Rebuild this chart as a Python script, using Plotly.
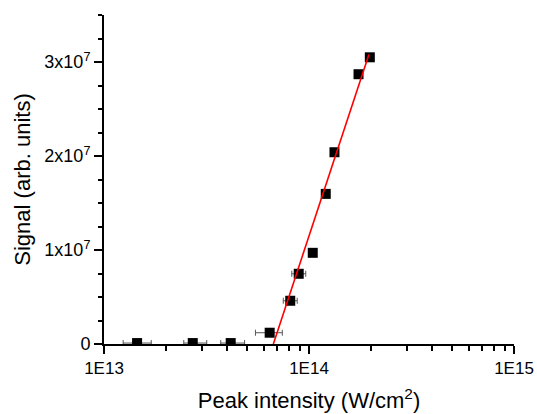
import plotly.graph_objects as go

# Data
intensity = [1.45e13, 2.71e13, 4.15e13, 6.43e13, 8.10e13, 8.91e13,
             1.043e14, 1.207e14, 1.331e14, 1.744e14, 1.98e14]
signal = [1.0e5, 1.0e5, 1.0e5, 1.2e6, 4.6e6, 7.47e6,
          9.7e6, 1.597e7, 2.04e7, 2.87e7, 3.05e7]
xerr_plus = [2.5e12, 4.6e12, 7.0e12, 9.8e12, 6.6e12, 7.3e12,
             4.0e12, 4.5e12, 5.0e12, 6.5e12, 7.5e12]
xerr_minus = [2.1e12, 2.6e12, 4.4e12, 9.5e12, 6.1e12, 6.7e12,
              4.0e12, 4.5e12, 5.0e12, 6.5e12, 7.5e12]

fit_x = [6.7e13, 1.96e14]
fit_y = [0.0, 3.08e7]

ytick_vals = [0, 1e7, 2e7, 3e7]
ytick_text = ["0", "1x10<sup>7</sup>", "2x10<sup>7</sup>", "3x10<sup>7</sup>"]
xtick_vals = [1e13, 1e14, 1e15]
xtick_text = ["1E13", "1E14", "1E15"]

FONT = "Liberation Sans, Arial, sans-serif"

fig = go.Figure()
fig.add_trace(go.Scatter(
    x=intensity, y=signal, mode="markers",
    marker=dict(symbol="square", size=10, color="black"),
    error_x=dict(type="data", symmetric=False, array=xerr_plus,
                 arrayminus=xerr_minus, color="#555555", thickness=1, width=3),
    showlegend=False,
))
fig.add_trace(go.Scatter(
    x=fit_x, y=fit_y, mode="lines",
    line=dict(color="#ff0000", width=1.6),
    showlegend=False,
))

fig.update_layout(
    width=537, height=414,
    margin=dict(l=104, r=23, t=15, b=70),
    paper_bgcolor="white", plot_bgcolor="white",
    font=dict(family=FONT, size=17, color="black"),
    xaxis=dict(
        type="log", range=[13, 15], automargin=False,
        tickvals=xtick_vals, ticktext=xtick_text,
        ticks="outside", ticklen=8, tickwidth=2, tickcolor="black",
        showline=True, linecolor="black", linewidth=2,
        showgrid=False, zeroline=False,
        minor=dict(ticks="outside", ticklen=5, tickwidth=1.5,
                   tickcolor="black", dtick="D1", showgrid=False),
        title=dict(text="Peak intensity (W/cm<sup>2</sup>)",
                   font=dict(size=22), standoff=15),
        tickfont=dict(size=17),
    ),
    yaxis=dict(
        range=[0, 3.5e7], automargin=False,
        tickvals=ytick_vals, ticktext=ytick_text,
        ticks="outside", ticklen=8, tickwidth=2, tickcolor="black",
        showline=True, linecolor="black", linewidth=2,
        showgrid=False, zeroline=False,
        minor=dict(ticks="outside", ticklen=4, tickwidth=1.5,
                   tickcolor="black", dtick=2.5e6, showgrid=False),
        title=dict(text="Signal (arb. units)", font=dict(size=22), standoff=8),
        tickfont=dict(size=18),
    ),
)

fig.write_html("out.html")
